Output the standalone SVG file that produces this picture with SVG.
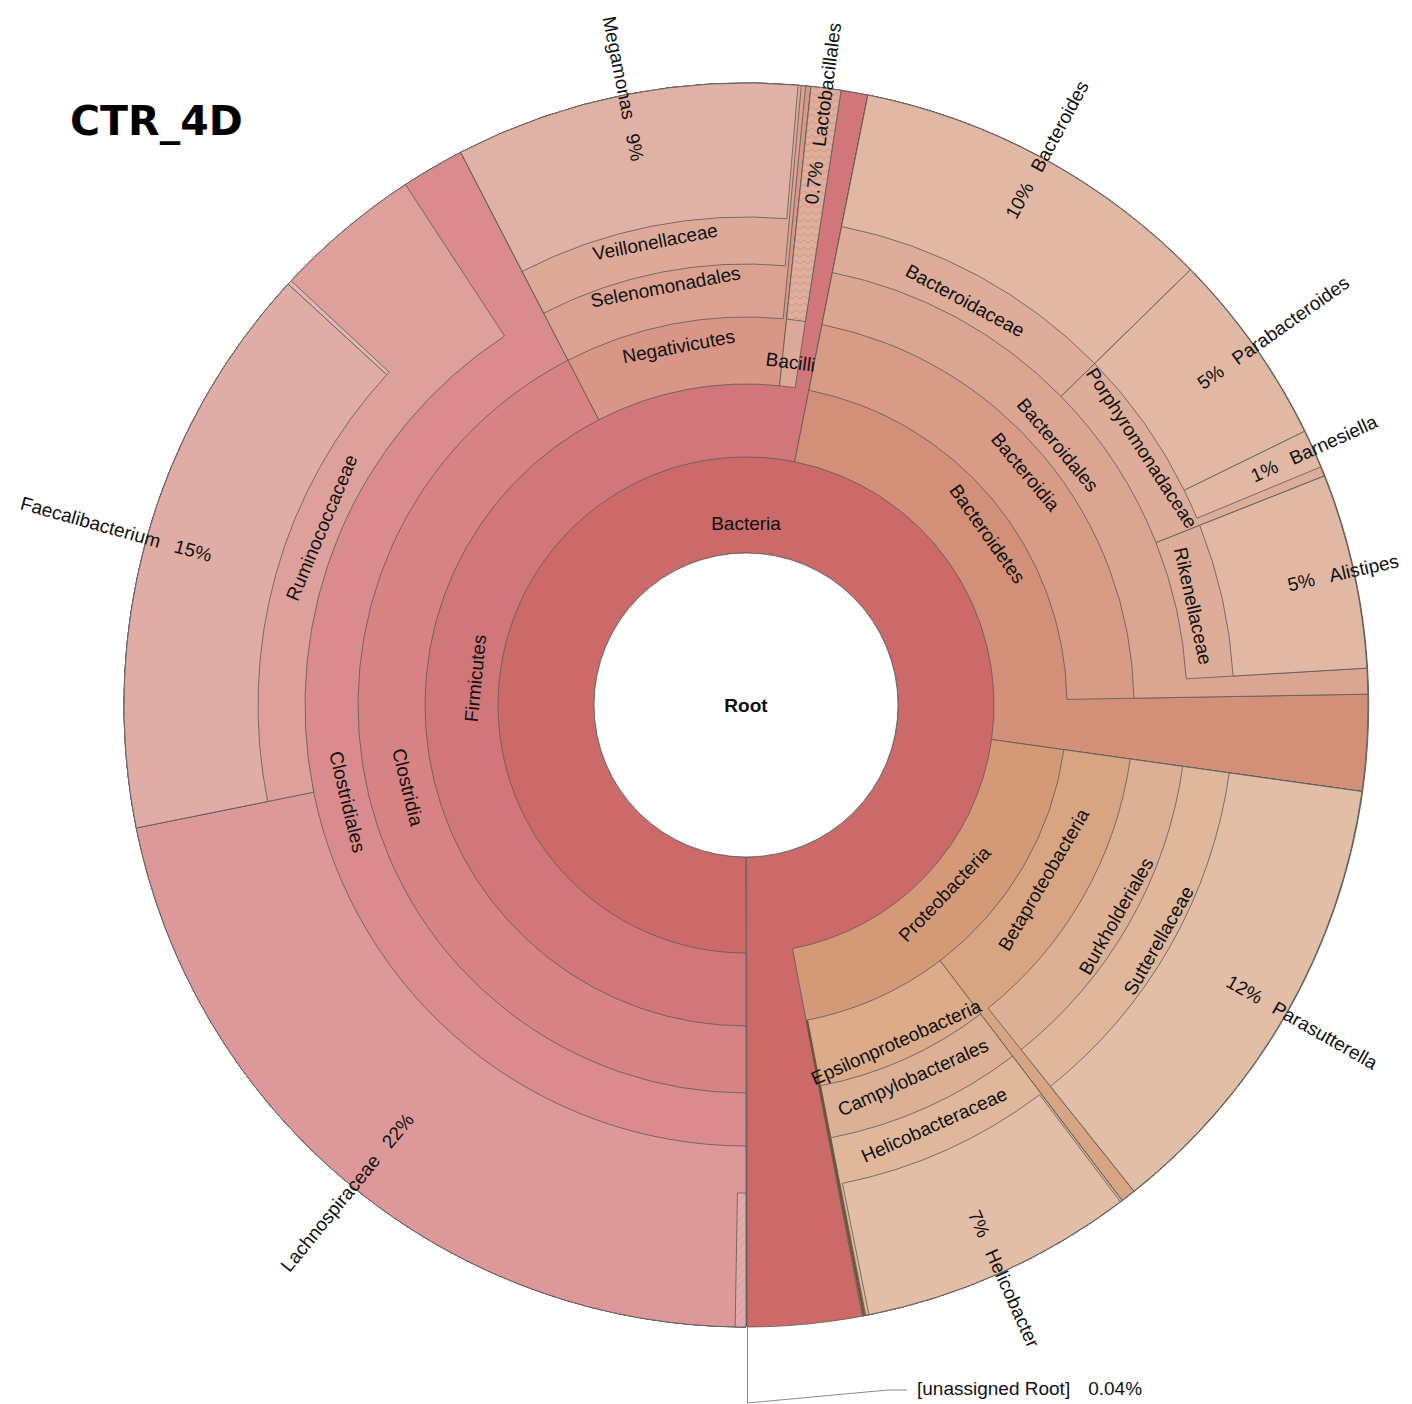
<svg xmlns="http://www.w3.org/2000/svg" width="1412" height="1404" viewBox="0 0 1412 1404">
<defs>
<pattern id="zig" width="8" height="7" patternUnits="userSpaceOnUse">
<rect width="8" height="7" fill="#dfae9c"/>
<path d="M0,5 L4,2 L8,5" fill="none" stroke="#c8907e" stroke-width="0.8"/>
</pattern>
<pattern id="diag" width="6" height="6" patternUnits="userSpaceOnUse" patternTransform="rotate(40)">
<rect width="6" height="6" fill="#e2abab"/>
<line x1="0" y1="0" x2="0" y2="6" stroke="#c99292" stroke-width="1"/>
</pattern>
<pattern id="dash" width="6" height="6" patternUnits="userSpaceOnUse" patternTransform="rotate(40)">
<rect width="6" height="6" fill="#e4b9b3"/>
<line x1="0" y1="0" x2="0" y2="3" stroke="#c9a09a" stroke-width="0.8"/>
</pattern>
<style>
.w{stroke:#5b5b5b;stroke-width:0.8;stroke-linejoin:round}
.t{font-family:"Liberation Sans",Arial,sans-serif;font-size:19px;fill:#111}
.m{text-anchor:middle}
.e{text-anchor:end}
.bac{fill:#cc6a6a}
.fir{fill:#d27779}
.clo{fill:#d78283}
.clos{fill:#d98b8d}
.lach{fill:#dd999a}
.rum{fill:#dea09b}
.fae{fill:#e0ada6}
.neg{fill:#d89687}
.sel{fill:#dba291}
.vei{fill:#ddaa9a}
.meg{fill:#e0b2a5}
.baci{fill:#dca898}
.bph{fill:#d39079}
.bcl{fill:#d89c86}
.bor{fill:#dba691}
.bfa{fill:#ddad9a}
.bge{fill:#e0b8a4}
.pro{fill:#d49a78}
.beta{fill:#d8a583}
.eps{fill:#dbab8a}
.bord{fill:#dcb094}
.pfa{fill:#dfb79b}
.pge{fill:#e1bea5}
</style>
</defs>
<rect width="1412" height="1404" fill="#ffffff"/>

<text x="70" y="135" font-family="'DejaVu Sans',sans-serif" font-weight="bold" font-size="41" fill="#000">CTR_4D</text>

<g id="node-bacteria">
<path class="w bac" d="M746,1327 A622,622 0 1 1 747.52,1327 L746.37,857 A152,152 0 1 0 746,857 Z"/>
</g>

<g id="node-firmicutes">
<path class="w fir" d="M746,1327 A622,622 0 1 1 867.88,95.06 L794.60,461.81 A248,248 0 1 0 746,953 Z"/>
</g>
<g id="node-clostridia">
<path class="w clo" d="M746,1327 A622,622 0 0 1 460.72,152.28 L598.77,419.75 A321,321 0 0 0 746,1026 Z"/>
</g>
<g id="node-clostridiales">
<path class="w clos" d="M746,1327 A622,622 0 0 1 460.72,152.28 L568.04,360.22 A388,388 0 0 0 746,1093 Z"/>
</g>
<g id="node-lachnospiraceae">
<path class="w lach" d="M746,1327 A622,622 0 0 1 136.27,827.94 L313.70,792.17 A441,441 0 0 0 746,1146 Z"/>
</g>
<g id="node-lachno-genus">
<path class="w" fill="url(#diag)" d="M746,1327 A622,622 0 0 1 735.14,1326.91 L737.48,1192.93 A488,488 0 0 0 746,1193 Z"/>
</g>
<g id="node-ruminococcaceae">
<path class="w rum" d="M136.27,827.94 A622,622 0 0 1 405.42,184.54 L504.53,335.99 A441,441 0 0 0 313.70,792.17 Z"/>
</g>
<g id="node-faecalibacterium">
<path class="w fae" d="M136.27,827.94 A622,622 0 0 1 288.15,283.98 L386.78,374.68 A488,488 0 0 0 267.63,801.46 Z"/>
</g>
<g id="node-rum-genus">
<path class="w" fill="url(#dash)" d="M288.15,283.98 A622,622 0 0 1 291.10,280.80 L389.10,372.18 A488,488 0 0 0 386.78,374.68 Z"/>
</g>
<g id="node-negativicutes">
<path class="w neg" d="M460.72,152.28 A622,622 0 0 1 811.02,86.41 L779.55,385.76 A321,321 0 0 0 598.77,419.75 Z"/>
</g>
<g id="node-selenomonadales">
<path class="w sel" d="M460.72,152.28 A622,622 0 0 1 805.62,85.86 L783.19,318.78 A388,388 0 0 0 568.04,360.22 Z"/>
</g>
<g id="node-veillonellaceae">
<path class="w vei" d="M460.72,152.28 A622,622 0 0 1 801.29,85.46 L785.20,265.75 A441,441 0 0 0 543.74,313.12 Z"/>
</g>
<g id="node-megamonas">
<path class="w meg" d="M460.72,152.28 A622,622 0 0 1 798.05,85.18 L786.84,218.71 A488,488 0 0 0 522.18,271.35 Z"/>
</g>
<g id="node-bacilli">
<path class="w baci" d="M811.02,86.41 A622,622 0 0 1 841.16,90.32 L795.11,387.78 A321,321 0 0 0 779.55,385.76 Z"/>
</g>
<g id="node-lactobacillales">
<path class="w" fill="url(#zig)" d="M811.02,86.41 A622,622 0 0 1 841.16,90.32 L805.36,321.57 A388,388 0 0 0 786.56,319.13 Z"/>
</g>

<g id="node-bacteroidetes">
<path class="w bph" d="M867.88,95.06 A622,622 0 0 1 1361.95,791.56 L991.59,739.51 A248,248 0 0 0 794.60,461.81 Z"/>
</g>
<g id="node-bacteroidia">
<path class="w bcl" d="M867.88,95.06 A622,622 0 0 1 1367.91,694.15 L1066.95,699.40 A321,321 0 0 0 808.90,390.22 Z"/>
</g>
<g id="node-bacteroidales">
<path class="w bor" d="M867.88,95.06 A622,622 0 0 1 1367.91,694.15 L1133.94,698.23 A388,388 0 0 0 822.03,324.52 Z"/>
</g>
<g id="node-bacteroidaceae">
<path class="w bfa" d="M867.88,95.06 A622,622 0 0 1 1190.40,269.81 L1061.08,396.45 A441,441 0 0 0 832.41,272.55 Z"/>
</g>
<g id="node-bacteroides">
<path class="w bge" d="M867.88,95.06 A622,622 0 0 1 1190.40,269.81 L1094.66,363.57 A488,488 0 0 0 841.62,226.46 Z"/>
</g>
<g id="node-porphyromonadaceae">
<path class="w bfa" d="M1190.40,269.81 A622,622 0 0 1 1324.32,476.03 L1156.03,542.66 A441,441 0 0 0 1061.08,396.45 Z"/>
</g>
<g id="node-parabacteroides">
<path class="w bge" d="M1190.40,269.81 A622,622 0 0 1 1304.57,431.36 L1184.24,490.31 A488,488 0 0 0 1094.66,363.57 Z"/>
</g>
<g id="node-barnesiella">
<path class="w bge" d="M1304.57,431.36 A622,622 0 0 1 1320.65,466.97 L1196.85,518.25 A488,488 0 0 0 1184.24,490.31 Z"/>
</g>
<g id="node-rikenellaceae">
<path class="w bfa" d="M1324.32,476.03 A622,622 0 0 1 1366.91,668.11 L1186.22,678.84 A441,441 0 0 0 1156.03,542.66 Z"/>
</g>
<g id="node-alistipes">
<path class="w bge" d="M1324.32,476.03 A622,622 0 0 1 1366.91,668.11 L1233.14,676.06 A488,488 0 0 0 1199.73,525.36 Z"/>
</g>

<g id="node-proteobacteria">
<path class="w pro" d="M1361.95,791.56 A622,622 0 0 1 862.55,1315.98 L792.47,948.61 A248,248 0 0 0 991.59,739.51 Z"/>
</g>
<g id="node-betaproteobacteria">
<path class="w beta" d="M1361.95,791.56 A622,622 0 0 1 1122.06,1200.44 L940.08,960.69 A321,321 0 0 0 1063.88,749.67 Z"/>
</g>
<g id="node-burkholderiales">
<path class="w bord" d="M1361.95,791.56 A622,622 0 0 1 1134.05,1191.11 L988.07,1008.23 A388,388 0 0 0 1130.22,759.00 Z"/>
</g>
<g id="node-sutterellaceae">
<path class="w pfa" d="M1361.95,791.56 A622,622 0 0 1 1134.05,1191.11 L1021.13,1049.65 A441,441 0 0 0 1182.71,766.37 Z"/>
</g>
<g id="node-parasutterella">
<path class="w pge" d="M1361.95,791.56 A622,622 0 0 1 1134.05,1191.11 L1050.45,1086.38 A488,488 0 0 0 1229.25,772.91 Z"/>
</g>
<g id="node-epsilonproteobacteria">
<path class="w eps" d="M1122.06,1200.44 A622,622 0 0 1 862.55,1315.98 L806.15,1020.31 A321,321 0 0 0 940.08,960.69 Z"/>
</g>
<g id="node-campylobacterales">
<path class="w bord" d="M1122.06,1200.44 A622,622 0 0 1 865.75,1315.36 L820.70,1085.74 A388,388 0 0 0 980.58,1014.05 Z"/>
</g>
<g id="node-helicobacteraceae">
<path class="w pfa" d="M1122.06,1200.44 A622,622 0 0 1 865.75,1315.36 L830.90,1137.75 A441,441 0 0 0 1012.63,1056.27 Z"/>
</g>
<g id="node-helicobacter">
<path class="w pge" d="M1120.33,1201.75 A622,622 0 0 1 868.94,1314.73 L842.46,1183.37 A488,488 0 0 0 1039.69,1094.74 Z"/>
</g>
<g id="node-proteo-other">
<path d="M806.97,1020.15 L864.15,1315.67" stroke="#6b5535" stroke-width="2.2" fill="none"/>
</g>

<g id="node-root">
<circle cx="746" cy="705" r="152" fill="#ffffff" stroke="#5b5b5b" stroke-width="0.8"/>
<text class="t m" x="746" y="705" dy="0.35em" font-weight="bold">Root</text>
</g>

<g id="labels">
<text class="t m" x="746" y="523" dy="0.35em">Bacteria</text>
<text class="t m" transform="translate(475.3,678.2) rotate(-84.35)" dy="0.35em">Firmicutes</text>
<text class="t m" transform="translate(407.83,787.12) rotate(76.35)" dy="0.35em">Clostridia</text>
<text class="t m" transform="translate(347.58,801.76) rotate(76.35)" dy="0.35em">Clostridiales</text>
<text class="t m" transform="translate(321.63,527.48) rotate(-67.3)" dy="0.35em">Ruminococcaceae</text>
<text class="t m" transform="translate(678.54,346.29) rotate(-10.65)" dy="0.35em">Negativicutes</text>
<text class="t m" transform="translate(665.44,286.69) rotate(-10.9)" dy="0.35em">Selenomonadales</text>
<text class="t m" transform="translate(655.13,241.83) rotate(-11.1)" dy="0.35em">Veillonellaceae</text>
<text class="t m" transform="translate(790.56,361.88) rotate(7.4)" dy="0.35em">Bacilli</text>
<text class="t m" transform="translate(987.48,533.81) rotate(54.65)" dy="0.35em">Bacteroidetes</text>
<text class="t m" transform="translate(1025.52,471.84) rotate(50.15)" dy="0.35em">Bacteroidia</text>
<text class="t m" transform="translate(1057.77,444.93) rotate(50.15)" dy="0.35em">Bacteroidales</text>
<text class="t m" transform="translate(965.16,300.55) rotate(28.45)" dy="0.35em">Bacteroidaceae</text>
<text class="t m" transform="translate(1141.85,447.93) rotate(57)" dy="0.35em">Porphyromonadaceae</text>
<text class="t m" transform="translate(1193.15,605.87) rotate(77.5)" dy="0.35em">Rikenellaceae</text>
<text class="t m" transform="translate(944.42,893.96) rotate(-46.4)" dy="0.35em">Proteobacteria</text>
<text class="t m" transform="translate(1043.57,879.58) rotate(-59.6)" dy="0.35em">Betaproteobacteria</text>
<text class="t m" transform="translate(1116.04,916.07) rotate(-60.3)" dy="0.35em">Burkholderiales</text>
<text class="t m" transform="translate(1158.60,940.34) rotate(-60.3)" dy="0.35em">Sutterellaceae</text>
<text class="t m" transform="translate(896.09,1042.10) rotate(-24)" dy="0.35em">Epsilonproteobacteria</text>
<text class="t m" transform="translate(912.93,1077.29) rotate(-24.15)" dy="0.35em">Campylobacterales</text>
<text class="t m" transform="translate(934.20,1124.74) rotate(-24.15)" dy="0.35em">Helicobacteraceae</text>

<text class="t e" transform="translate(637.73,160.66) rotate(78.75)" dy="0.35em">Megamonas<tspan dx="15">9%</tspan></text>
<text class="t" transform="translate(811.04,204.21) rotate(-82.6)" dy="0.35em">0.7%<tspan dx="15">Lactobacillales</tspan></text>
<text class="t" transform="translate(1010.42,217.03) rotate(-61.55)" dy="0.35em">10%<tspan dx="15">Bacteroides</tspan></text>
<text class="t" transform="translate(1199.33,384.81) rotate(-35.25)" dy="0.35em">5%<tspan dx="15">Parabacteroides</tspan></text>
<text class="t" transform="translate(1251.83,476.61) rotate(-24.3)" dy="0.35em">1%<tspan dx="15">Barnesiella</tspan></text>
<text class="t" transform="translate(1287.85,584.88) rotate(-12.5)" dy="0.35em">5%<tspan dx="15">Alistipes</tspan></text>
<text class="t" transform="translate(1228.09,979.98) rotate(29.7)" dy="0.35em">12%<tspan dx="15">Parasutterella</tspan></text>
<text class="t" transform="translate(973.51,1211.23) rotate(65.8)" dy="0.35em">7%<tspan dx="15">Helicobacter</tspan></text>
<text class="t e" transform="translate(409.68,1115.91) rotate(-50.7)" dy="0.35em">Lachnospiraceae<tspan dx="15">22%</tspan></text>
<text class="t e" transform="translate(211.45,555.75) rotate(15.6)" dy="0.35em">Faecalibacterium<tspan dx="15">15%</tspan></text>
</g>

<g id="connectors">
<polyline points="747.5,1327 747.5,1403 888,1390 907,1390" fill="none" stroke="#8a8a8a" stroke-width="1"/>
</g>

<g id="node-unassigned-root">
<text class="t" x="917" y="1395">[unassigned Root]<tspan dx="18">0.04%</tspan></text>
</g>
</svg>
